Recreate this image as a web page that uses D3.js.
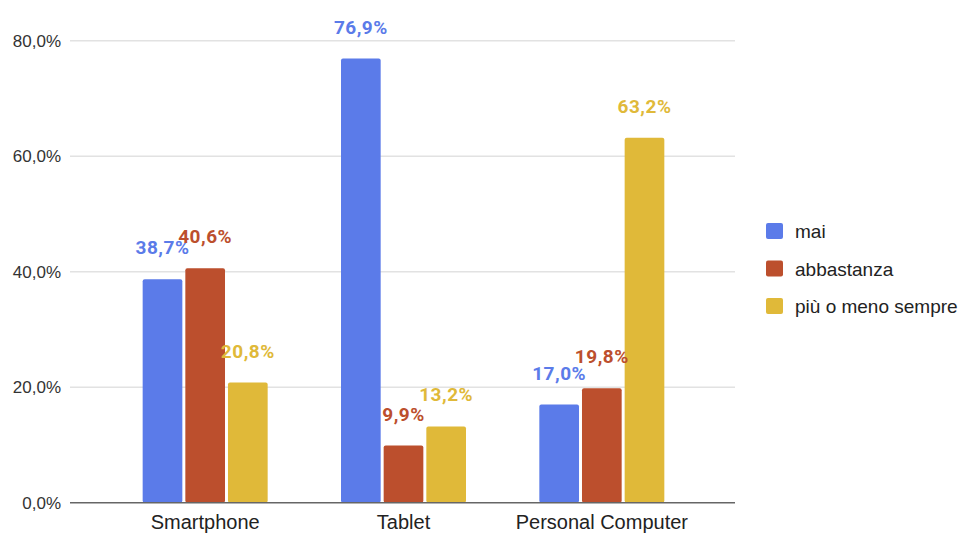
<!DOCTYPE html>
<html>
<head>
<meta charset="utf-8">
<script src="https://cdn.jsdelivr.net/npm/d3@7"></script>
<style>
  body { margin: 0; background: #fff; }
  svg { display: block; font-family: "Liberation Sans", Arial, sans-serif; }
</style>
</head>
<body>
<div id="chart"></div>
<script>
var categories = ["Smartphone", "Tablet", "Personal Computer"];
var seriesNames = ["mai", "abbastanza", "più o meno sempre"];
var seriesColors = ["#5b7be9", "#bc4f2d", "#e0b939"];
var mai = [38.7, 76.9, 17.0];
var abbastanza = [40.6, 9.9, 19.8];
var sempre = [20.8, 13.2, 63.2];
var yTicks = [0, 20, 40, 60, 80];

var seriesValues = [mai, abbastanza, sempre];

var width = 971, height = 533;
var gridLeft = 70, gridRight = 735;
var plotTop = 40.7, plotBottom = 502.7;

var svg = d3.select("#chart").append("svg")
    .attr("width", width)
    .attr("height", height);

var x = d3.scaleBand().domain(categories).range([106, 701]);
var xs = d3.scaleBand().domain(d3.range(seriesNames.length))
    .range([0, 125]).paddingInner(0.07);
var y = d3.scaleLinear().domain([0, 80]).range([plotBottom, plotTop]);

var fmt = function (v) { return v.toFixed(1).replace(".", ",") + "%"; };

// gridlines
svg.append("g").selectAll("line")
    .data(yTicks.filter(function (d) { return d > 0; }))
    .enter().append("line")
    .attr("x1", gridLeft).attr("x2", gridRight)
    .attr("y1", function (d) { return y(d); })
    .attr("y2", function (d) { return y(d); })
    .attr("stroke", "#e2e2e2")
    .attr("stroke-width", 1.5);

// y axis labels
svg.append("g").selectAll("text")
    .data(yTicks)
    .enter().append("text")
    .attr("x", 61)
    .attr("y", function (d) { return y(d) + 6; })
    .attr("text-anchor", "end")
    .attr("font-size", 17)
    .attr("fill", "#333")
    .text(function (d) { return fmt(d); });

// bars
var groups = svg.append("g").selectAll("g")
    .data(categories)
    .enter().append("g")
    .attr("transform", function (d) {
        return "translate(" + (x(d) + (x.bandwidth() - 125) / 2) + ",0)";
    });

function cells(d, i) {
    return seriesValues.map(function (s, j) { return { s: j, v: s[i] }; });
}

groups.selectAll("rect")
    .data(cells)
    .enter().append("rect")
    .attr("x", function (d) { return xs(d.s); })
    .attr("y", function (d) { return y(d.v); })
    .attr("width", xs.bandwidth())
    .attr("height", function (d) { return plotBottom - y(d.v); })
    .attr("rx", 2)
    .attr("fill", function (d) { return seriesColors[d.s]; });

groups.selectAll("text")
    .data(cells)
    .enter().append("text")
    .attr("x", function (d) { return xs(d.s) + xs.bandwidth() / 2; })
    .attr("y", function (d) { return y(d.v) - 25; })
    .attr("text-anchor", "middle")
    .attr("font-family", "Roboto, sans-serif")
    .attr("font-weight", "bold")
    .attr("font-size", 19)
    .attr("letter-spacing", 0.5)
    .attr("fill", function (d) { return seriesColors[d.s]; })
    .text(function (d) { return fmt(d.v); });

// baseline
svg.append("line")
    .attr("x1", gridLeft).attr("x2", gridRight)
    .attr("y1", plotBottom).attr("y2", plotBottom)
    .attr("stroke", "#666")
    .attr("stroke-width", 1.5);

// x axis labels
svg.append("g").selectAll("text")
    .data(categories)
    .enter().append("text")
    .attr("x", function (d) { return x(d) + x.bandwidth() / 2; })
    .attr("y", 529)
    .attr("text-anchor", "middle")
    .attr("font-size", 20)
    .attr("fill", "#222")
    .text(function (d) { return d; });

// legend
var legend = svg.append("g").selectAll("g")
    .data(seriesNames)
    .enter().append("g")
    .attr("transform", function (d, i) { return "translate(766," + (223 + i * 37.5) + ")"; });

legend.append("rect")
    .attr("width", 17).attr("height", 16).attr("rx", 2)
    .attr("fill", function (d, i) { return seriesColors[i]; });

legend.append("text")
    .attr("x", 29).attr("y", 15)
    .attr("font-size", 19)
    .attr("fill", "#222")
    .text(function (d) { return d; });
</script>
</body>
</html>
